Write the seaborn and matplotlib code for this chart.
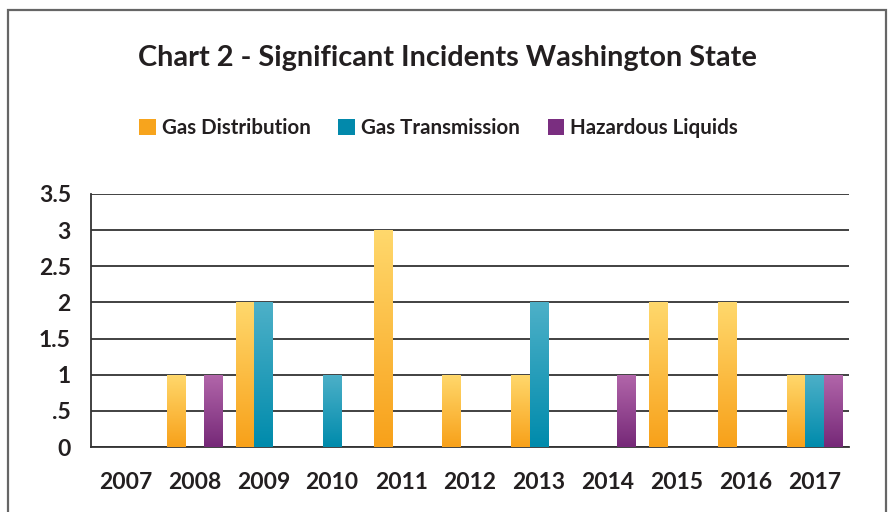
import numpy as np
import pandas as pd
import matplotlib
matplotlib.use("Agg")
import matplotlib.pyplot as plt
from matplotlib.patches import Patch, Rectangle
from matplotlib.colors import LinearSegmentedColormap, to_hex
import seaborn as sns

# data
years = [str(y) for y in range(2007, 2018)]
gas_distribution = [0, 1, 2, 0, 3, 1, 1, 0, 2, 2, 1]
gas_transmission = [0, 0, 2, 1, 0, 0, 2, 0, 0, 0, 1]
hazardous_liquids = [0, 1, 0, 0, 0, 0, 0, 1, 0, 0, 1]
series_names = ["Gas Distribution", "Gas Transmission", "Hazardous Liquids"]
y_ticks = [0, 0.5, 1, 1.5, 2, 2.5, 3, 3.5]
y_tick_labels = ["0", ".5", "1", "1.5", "2", "2.5", "3", "3.5"]

# solid colours (legend) and gradient ends (top, bottom) for the bars
solid = ["#f7a41d", "#0289ab", "#7a2e80"]
grad = {solid[0]: ("#FFD86C", "#F8A11A"),
        solid[1]: ("#4DB0C8", "#008BAC"),
        solid[2]: ("#B266AA", "#762978")}

df = pd.DataFrame({
    "year": years * 3,
    "count": gas_distribution + gas_transmission + hazardous_liquids,
    "series": np.repeat(series_names, len(years)),
})

sns.set_style("white")
plt.rcParams["font.family"] = ["Lato", "DejaVu Sans"]
plt.rcParams["font.weight"] = "bold"

fig = plt.figure(figsize=(8.9, 5.12), dpi=100)
ax = fig.add_axes([91 / 890, 1 - 447 / 512, (849 - 91) / 890, (447 - 194) / 512])

sns.barplot(data=df, x="year", y="count", hue="series", palette=solid,
            hue_order=series_names, order=years, width=0.8, legend=False,
            saturation=1, linewidth=0, ax=ax, zorder=3)

# replace flat fills with vertical gradients
for p in ax.patches:
    h = p.get_height()
    key = to_hex(p.get_facecolor())
    p.set_edgecolor("none")
    p.set_linewidth(0)
    if h <= 0:
        p.set_visible(False)
        continue
    top, bot = grad.get(key, (key, key))
    cmap = LinearSegmentedColormap.from_list("g", [bot, top])
    x0 = p.get_x()
    w = p.get_width()
    img = ax.imshow(np.linspace(0, 1, 100).reshape(-1, 1), cmap=cmap,
                    origin="lower", aspect="auto", interpolation="bilinear",
                    extent=[x0, x0 + w, 0, h], zorder=3)
    img.set_clip_path(p)
    p.set_facecolor("none")

ax.set_xlim(-0.5, len(years) - 0.5)
ax.set_ylim(0, 3.5)
ax.set_yticks(y_ticks)
ax.set_yticklabels(y_tick_labels)
ax.set_xlabel("")
ax.set_ylabel("")
ax.set_axisbelow(True)
ax.yaxis.grid(True, color="#333333", lw=1.3)
ax.xaxis.grid(False)

for s in ["top", "right"]:
    ax.spines[s].set_visible(False)
for s in ["left", "bottom"]:
    ax.spines[s].set_color("#333333")
    ax.spines[s].set_linewidth(1.3)

ax.set_xticks(np.arange(-0.5, len(years), 1), minor=True)
ax.tick_params(axis="x", which="major", length=0, pad=18, labelsize=16.5, labelcolor="#231F20")
ax.tick_params(axis="x", which="minor", length=6, width=1.3, color="#333333", direction="out")
ax.tick_params(axis="y", which="major", length=4.5, width=1.3, color="#333333",
               direction="out", pad=10, labelsize=16.5, labelcolor="#231F20")
for lbl in ax.get_xticklabels() + ax.get_yticklabels():
    lbl.set_fontweight("bold")

# title and legend
fig.text(0.503, 1 - 58 / 512, "Chart 2 - Significant Incidents Washington State",
         ha="center", va="center", fontsize=20.8, fontweight="bold", color="#231F20")
handles = [Patch(facecolor=c, edgecolor="none") for c in solid]
fig.legend(handles, series_names, loc="center", bbox_to_anchor=(0.4927, 1 - 128 / 512),
           ncol=3, frameon=False, handlelength=0.8, handleheight=0.8,
           handletextpad=0.3, columnspacing=1.35,
           prop={"weight": "bold", "size": 14.8}, labelcolor="#231F20")

# outer frame
fig.patches.append(Rectangle((8 / 890, -0.1), (886 - 8) / 890, 1.1 - 10 / 512,
                             transform=fig.transFigure, fill=False,
                             edgecolor="#666666", lw=1.6))

fig.savefig("out.png", dpi=100)
